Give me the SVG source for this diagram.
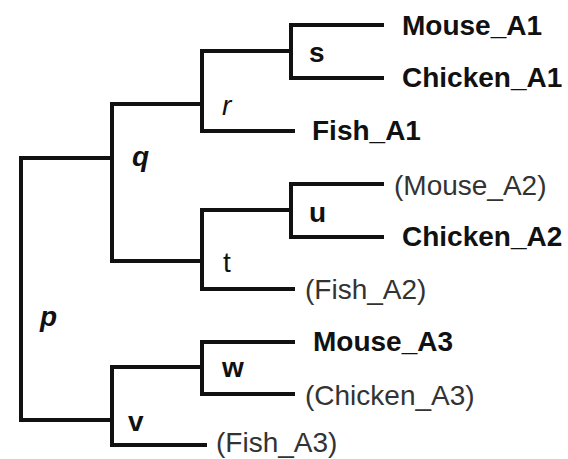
<svg xmlns="http://www.w3.org/2000/svg" width="568" height="459" viewBox="0 0 568 459">
  <style>
    .edge { fill: none; stroke: #111; stroke-width: 4; stroke-linecap: butt; stroke-linejoin: miter; }
    .leaf { font-family: "Liberation Sans", Arial, sans-serif; font-size: 28px; font-weight: bold; fill: #111; }
    .lost { font-family: "Liberation Sans", Arial, sans-serif; font-size: 28px; font-weight: normal; fill: #333; }
    .inner { font-family: "Liberation Sans", Arial, sans-serif; font-size: 28px; font-weight: bold; fill: #111; }
    .inner-it { font-family: "Liberation Sans", Arial, sans-serif; font-size: 28px; font-weight: bold; font-style: italic; fill: #111; }
    .inner-plain { font-family: "Liberation Sans", Arial, sans-serif; font-size: 28px; font-weight: normal; fill: #111; }
  </style>
  <rect width="568" height="459" fill="#ffffff"/>

  <!-- tree branches -->
  <g id="connectors">
    <!-- p -->
    <path class="edge" d="M112 158 H21 V420 H112"/>
    <!-- q -->
    <path class="edge" d="M202 104 H112 V261 H202"/>
    <!-- r -->
    <path class="edge" d="M291 51 H202 V131 H295"/>
    <!-- s -->
    <path class="edge" d="M384 25 H291 V78 H384"/>
    <!-- t -->
    <path class="edge" d="M291 210 H202 V289 H295"/>
    <!-- u -->
    <path class="edge" d="M384 184 H291 V237 H384"/>
    <!-- v -->
    <path class="edge" d="M202 367 H112 V445 H207"/>
    <!-- w -->
    <path class="edge" d="M295 342 H202 V394 H295"/>
  </g>

  <!-- internal nodes -->
  <g id="node-p"><text class="inner-it" x="40" y="326">p</text></g>
  <g id="node-q"><text class="inner-it" x="132" y="166">q</text></g>
  <g id="node-r"><text class="inner-plain" x="222" y="115" font-style="italic">r</text></g>
  <g id="node-s"><text class="inner" x="309" y="62">s</text></g>
  <g id="node-t"><text class="inner-plain" x="223" y="272">t</text></g>
  <g id="node-u"><text class="inner" x="309" y="222">u</text></g>
  <g id="node-v"><text class="inner" x="128" y="431">v</text></g>
  <g id="node-w"><text class="inner" x="222" y="377">w</text></g>

  <!-- leaves -->
  <g id="leaf-mouse-a1"><text class="leaf" x="402" y="35">Mouse_A1</text></g>
  <g id="leaf-chicken-a1"><text class="leaf" x="402" y="87">Chicken_A1</text></g>
  <g id="leaf-fish-a1"><text class="leaf" x="312" y="140">Fish_A1</text></g>
  <g id="leaf-mouse-a2"><text class="lost" x="394" y="195">(Mouse_A2)</text></g>
  <g id="leaf-chicken-a2"><text class="leaf" x="402" y="246">Chicken_A2</text></g>
  <g id="leaf-fish-a2"><text class="lost" x="305" y="299">(Fish_A2)</text></g>
  <g id="leaf-mouse-a3"><text class="leaf" x="313" y="351">Mouse_A3</text></g>
  <g id="leaf-chicken-a3"><text class="lost" x="305" y="405">(Chicken_A3)</text></g>
  <g id="leaf-fish-a3"><text class="lost" x="216" y="452">(Fish_A3)</text></g>
</svg>
